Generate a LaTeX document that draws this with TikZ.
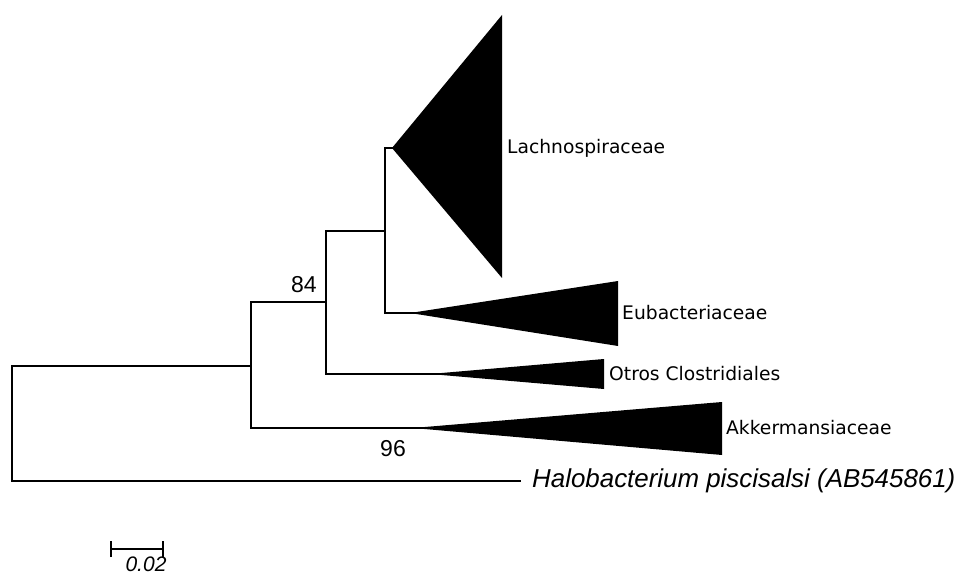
\documentclass[tikz,border=0pt]{standalone}
\usepackage{fontspec}
\newfontfamily\cladefont{DejaVu Sans}
\newfontfamily\arialfont{Liberation Sans}
\tikzset{
	branch/.style={line width=1.3pt, black, line cap=rect},
	clade/.style={fill=black},
	cladelabel/.style={anchor=west, inner sep=0pt, font=\cladefont\fontsize{18.7}{20}\selectfont},
	bootval/.style={inner sep=0pt, font=\arialfont\fontsize{23}{24}\selectfont}
}
\begin{document}
\begin{tikzpicture}[x=1pt, y=-1pt]
	\useasboundingbox (0,0) rectangle (961,577);
	%junctions
		\coordinate (root) at (12, 366);
		\coordinate (n96) at (251, 366);
		\coordinate (n84) at (326, 302);
		\coordinate (nlc) at (385, 231);
		\coordinate (halo) at (520, 481);
		\coordinate (lach) at (392, 148);
		\coordinate (eub) at (410, 313);
		\coordinate (otr) at (430, 374);
		\coordinate (akk) at (413, 428);
	%branches
		\draw[branch] (n96) -- (root) |- (halo);
		\draw[branch] (n96) |- (n84);
		\draw[branch] (n96) |- ([xshift=8]akk);
		\draw[branch] (n84) |- (nlc);
		\draw[branch] (n84) |- ([xshift=8]otr);
		\draw[branch] (nlc) |- ([xshift=3]lach);
		\draw[branch] (nlc) |- ([xshift=8]eub);
	%collapsed clades
		\fill[clade] (lach) -- (502, 15) -- (502, 278) -- cycle;
		\fill[clade] (eub) -- (618, 281) -- (618, 346) -- cycle;
		\fill[clade] (otr) -- (604, 359) -- (604, 389) -- cycle;
		\fill[clade] (akk) -- (722, 402) -- (722, 455) -- cycle;
	%labels
		\node[cladelabel] (lachlab) at (507, 148){Lachnospiraceae};
		\node[cladelabel] (eublab) at (622, 313){Eubacteriaceae};
		\node[cladelabel] (otrlab) at (609, 374){Otros Clostridiales};
		\node[cladelabel] (akklab) at (726, 428){Akkermansiaceae};
		\node[anchor=west, inner sep=0pt, font=\arialfont\itshape\fontsize{25.9}{26}\selectfont] (halolab) at (532, 481){Halobacterium piscisalsi (AB545861)};
		\node[bootval] (b84) at (304, 285){84};
		\node[bootval] (b96) at (393, 449){96};
	%scale bar
		\coordinate (sbl) at (111, 549);
		\coordinate (sbr) at (163, 549);
		\draw[line width=1.3pt] (sbl) -- (sbr);
		\draw[line width=1.3pt] ([yshift=-8]sbl) -- ([yshift=8]sbl);
		\draw[line width=1.3pt] ([yshift=-8]sbr) -- ([yshift=8]sbr);
		\node[anchor=south, inner sep=0pt, font=\arialfont\itshape\fontsize{21}{21}\selectfont] (sblab) at (146, 572){0.02};
\end{tikzpicture}
\end{document}
